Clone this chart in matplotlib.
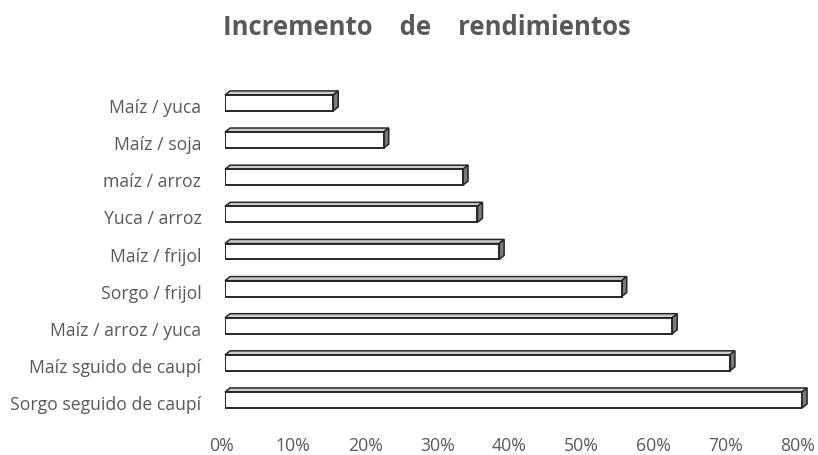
import matplotlib.pyplot as plt
from matplotlib.patches import Polygon
from matplotlib.transforms import ScaledTranslation

plt.rcParams['font.family'] = ['Open Sans', 'DejaVu Sans']

# Data (top to bottom as shown in the chart)
cultivos = ['Maíz / yuca', 'Maíz / soja', 'maíz / arroz', 'Yuca / arroz',
            'Maíz / frijol', 'Sorgo / frijol', 'Maíz / arroz / yuca',
            'Maíz sguido de caupí', 'Sorgo seguido de caupí']
incremento = [15, 22, 33, 35, 38, 55, 62, 70, 80]
ticks = [0, 10, 20, 30, 40, 50, 60, 70, 80]
tick_labels = ['0%', '10%', '20%', '30%', '40%', '50%', '60%', '70%', '80%']

W, H = 818, 455
fig = plt.figure(figsize=(W / 100, H / 100), dpi=100)
ax = fig.add_axes([225 / W, 1 - 418.6 / H, 577 / W, 334.2 / H])

n = len(cultivos)
ypos = [n - 1 - i for i in range(n)]
h = 0.43
edge = '#262626'
# depth of the 3D effect in data units (~5 px right, ~4 px up)
dx, dy = 0.7, 0.11

for y, v in zip(ypos, incremento):
    top = Polygon([(0, y + h / 2), (v, y + h / 2), (v + dx, y + h / 2 + dy), (dx, y + h / 2 + dy)],
                  closed=True, facecolor='#cccccc', edgecolor=edge, linewidth=1.1, zorder=2,
                  clip_on=False)
    side = Polygon([(v, y - h / 2), (v, y + h / 2), (v + dx, y + h / 2 + dy), (v + dx, y - h / 2 + dy)],
                   closed=True, facecolor='#7a7a7a', edgecolor=edge, linewidth=1.1, zorder=2,
                   clip_on=False)
    ax.add_patch(top)
    ax.add_patch(side)

ax.barh(ypos, incremento, height=h, color='white', edgecolor=edge, linewidth=1.4, zorder=3)

ax.set_xlim(0, 80)
ax.set_ylim(-0.5, n - 0.5)
ax.set_yticks(ypos)
ax.set_yticklabels(cultivos)
ax.set_xticks(ticks)
ax.set_xticklabels(tick_labels)
ax.tick_params(axis='both', length=0, labelsize=12.7, labelcolor='#595959')
ax.tick_params(axis='x', pad=13)
ax.tick_params(axis='y', pad=17)
offx = ScaledTranslation(-4 / 100, 0, fig.dpi_scale_trans)
for lab in ax.get_xticklabels():
    lab.set_transform(lab.get_transform() + offx)
offy = ScaledTranslation(0, -3 / 100, fig.dpi_scale_trans)
for lab in ax.get_yticklabels():
    lab.set_transform(lab.get_transform() + offy)
for s in ax.spines.values():
    s.set_visible(False)

fig.text(427 / W, 1 - 35 / H, 'Incremento    de    rendimientos', ha='center', va='baseline',
         fontsize=18.5, fontweight='bold', color='#595959')

fig.savefig('out.png', dpi=100)
